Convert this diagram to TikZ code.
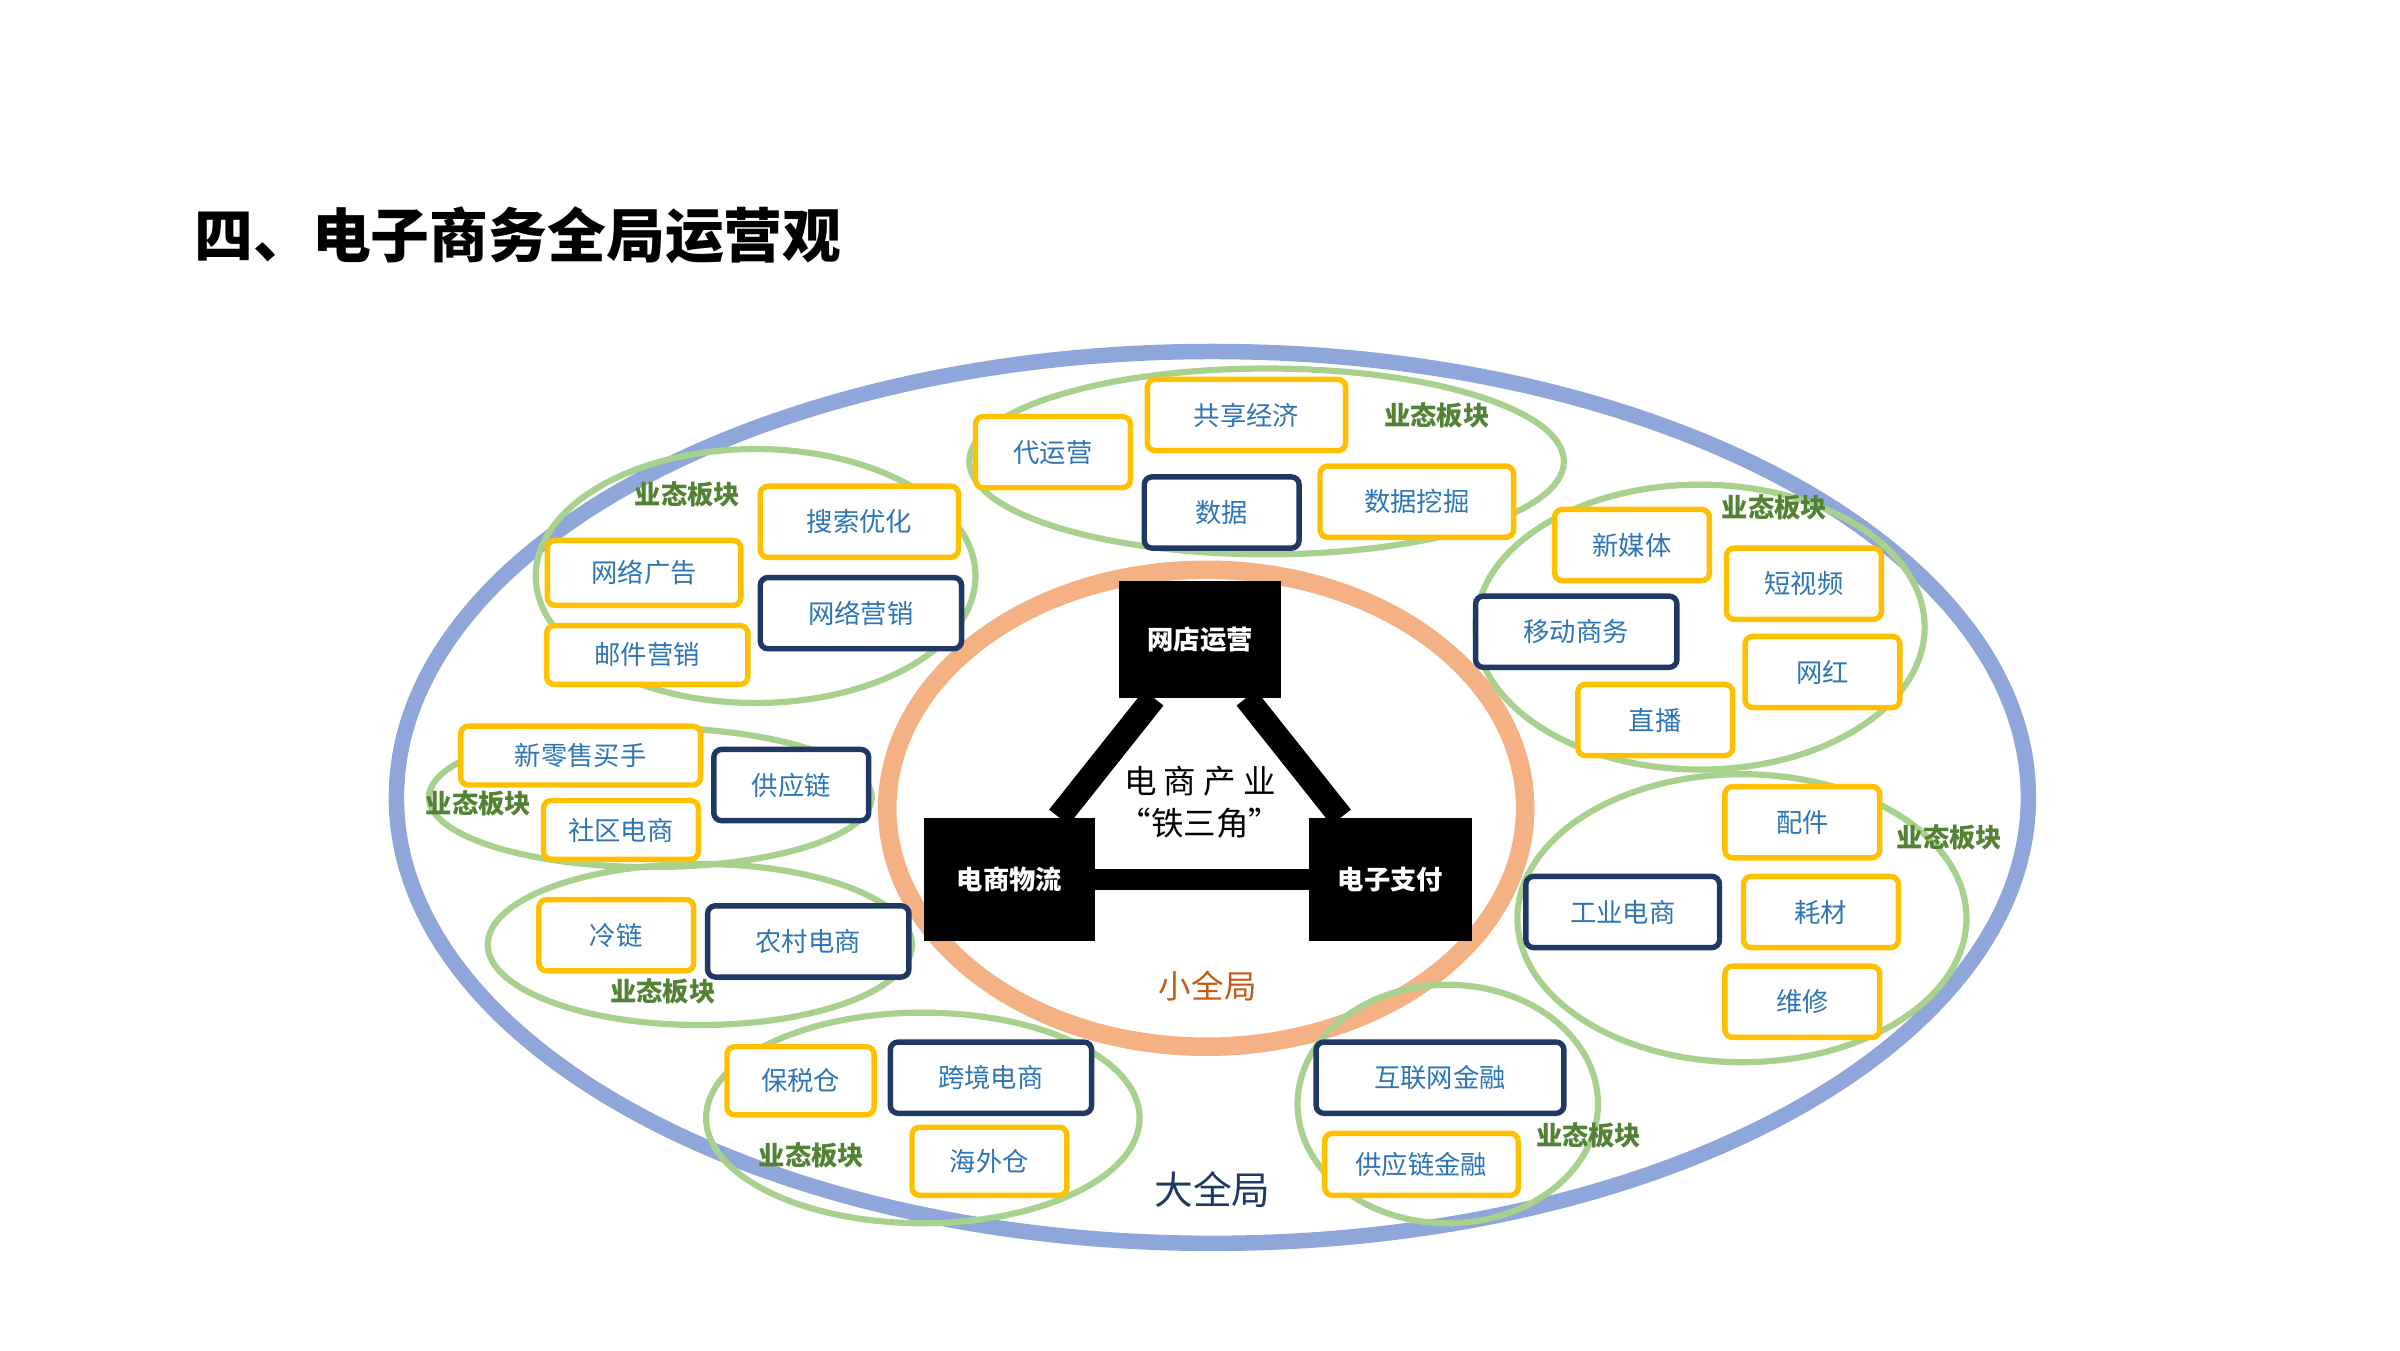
\documentclass[tikz,border=0pt]{standalone}
\usepackage{fontspec}
\setmainfont{Noto Sans CJK SC}
\usetikzlibrary{positioning}
\definecolor{bigring}{RGB}{142,166,218}
\definecolor{smallring}{RGB}{244,177,131}
\definecolor{field}{RGB}{169,209,142}
\definecolor{gold}{RGB}{255,192,0}
\definecolor{navy}{RGB}{31,56,100}
\definecolor{boxtext}{RGB}{46,117,182}
\definecolor{tagtext}{RGB}{84,130,53}
\definecolor{smalltext}{RGB}{197,90,17}

\begin{document}
\begin{tikzpicture}[x=1pt, y=-1pt,
    ybox/.style={rectangle, rounded corners=5pt, draw=gold, fill=white, line width=3.5pt,
                 text=boxtext, font=\fontsize{17}{19}\selectfont, minimum height=46pt, inner sep=2pt},
    nbox/.style={ybox, draw=navy},
    hub/.style={rectangle, fill=black, text=white, font=\fontsize{17}{19}\selectfont\bfseries,
                minimum width=105pt, minimum height=75pt},
    tag/.style={text=tagtext, font=\fontsize{17}{19}\selectfont\bfseries},
    zone/.style={draw=field, line width=4pt}]
    \useasboundingbox (0,0) rectangle (1550,872);

    % Title
    \node[anchor=west, font=\fontsize{38}{42}\selectfont\bfseries] (title) at (122,152) {四、电子商务全局运营观};

    % Rings
    \draw[bigring, line width=10pt] (783,515) ellipse [x radius=527, y radius=288];
    \draw[smallring, line width=12pt] (779,522) ellipse [x radius=206, y radius=154];

    % Zones
    \draw[zone] (818,298) ellipse [x radius=192, y radius=60];
    \draw[zone] (488,372) ellipse [x radius=142, y radius=82];
    \draw[zone] (420,515) ellipse [x radius=143, y radius=45];
    \draw[zone] (452,610) ellipse [x radius=137, y radius=52];
    \draw[zone] (596,722) ellipse [x radius=140, y radius=68];
    \draw[zone] (935,713) ellipse [x radius=97, y radius=77];
    \draw[zone] (1125,593) ellipse [x radius=145, y radius=93];
    \draw[zone] (1098,405) ellipse [x radius=145, y radius=92];

    % Iron triangle
    \node[hub] (shop) at (775,413) {网店运营};
    \node[hub, minimum width=110pt, minimum height=80pt] (logistics) at (652,568) {电商物流};
    \node[hub, minimum height=80pt] (payment) at (898,568) {电子支付};
    \draw[line width=16pt] (shop) -- (logistics);
    \draw[line width=16pt] (shop) -- (payment);
    \draw[line width=14pt] (logistics) -- (payment);
    \node[align=center, font=\fontsize{21}{27}\selectfont] (core) at (775,518) {电 商 产 业\\“铁三角”};
    \node[text=smalltext, font=\fontsize{21}{24}\selectfont] (small) at (780,637) {小全局};
    \node[text=navy, font=\fontsize{25}{28}\selectfont] (large) at (783,768) {大全局};

    % Top zone
    \node[ybox, minimum width=128pt] (share) at (805,268) {共享经济};
    \node[ybox, minimum width=100pt] (agent) at (680,292) {代运营};
    \node[ybox, minimum width=125pt] (mining) at (915,324) {数据挖掘};
    \node[nbox, minimum width=100pt] (data) at (789,331) {数据};

    % Upper left zone
    \node[ybox, minimum width=128pt] (seo) at (555,337) {搜索优化};
    \node[ybox, minimum width=125pt, minimum height=42pt] (ads) at (416,370) {网络广告};
    \node[nbox, minimum width=130pt] (netmkt) at (556,396) {网络营销};
    \node[ybox, minimum width=130pt, minimum height=38pt] (mail) at (418,423) {邮件营销};

    % Left zone
    \node[ybox, minimum width=155pt, minimum height=38pt] (buyer) at (375,488) {新零售买手};
    \node[nbox, minimum width=100pt] (supply) at (511,507) {供应链};
    \node[ybox, minimum width=100pt, minimum height=38pt] (community) at (401,536) {社区电商};

    % Lower left zone
    \node[ybox, minimum width=100pt] (cold) at (398,604) {冷链};
    \node[nbox, minimum width=130pt] (rural) at (522,608) {农村电商};

    % Bottom left zone
    \node[ybox, minimum width=95pt, minimum height=44pt] (bonded) at (517,698) {保税仓};
    \node[nbox, minimum width=130pt] (cross) at (640,696) {跨境电商};
    \node[ybox, minimum width=100pt, minimum height=44pt] (overseas) at (639,750) {海外仓};

    % Bottom right zone
    \node[nbox, minimum width=160pt] (fintech) at (930,696) {互联网金融};
    \node[ybox, minimum width=125pt, minimum height=40pt] (scf) at (918,752) {供应链金融};

    % Right lower zone
    \node[nbox, minimum width=125pt] (industry) at (1048,589) {工业电商};
    \node[ybox, minimum width=100pt] (parts) at (1164,531) {配件};
    \node[ybox, minimum width=100pt] (supplies) at (1176,589) {耗材};
    \node[ybox, minimum width=100pt] (repair) at (1164,647) {维修};

    % Right upper zone
    \node[ybox, minimum width=100pt] (media) at (1054,352) {新媒体};
    \node[ybox, minimum width=100pt] (video) at (1165,377) {短视频};
    \node[nbox, minimum width=130pt] (mobile) at (1018,408) {移动商务};
    \node[ybox, minimum width=100pt] (influencer) at (1177,434) {网红};
    \node[ybox, minimum width=100pt] (live) at (1069,465) {直播};

    % Zone tags
    \node[tag] (tag1) at (928,268) {业态板块};
    \node[tag] (tag2) at (444,319) {业态板块};
    \node[tag] (tag3) at (1146,328) {业态板块};
    \node[tag] (tag4) at (309,519) {业态板块};
    \node[tag] (tag5) at (428,640) {业态板块};
    \node[tag] (tag6) at (524,746) {业态板块};
    \node[tag] (tag7) at (1259,541) {业态板块};
    \node[tag] (tag8) at (1026,733) {业态板块};
\end{tikzpicture}
\end{document}
